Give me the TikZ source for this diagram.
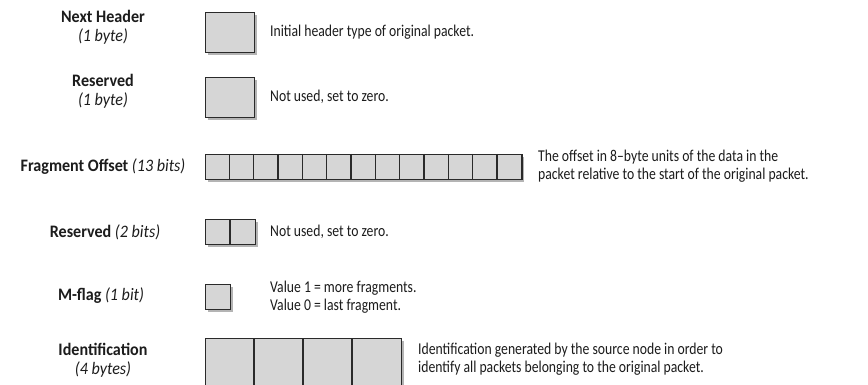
\documentclass[tikz,border=0pt]{standalone}
\usepackage{fontspec}
\setmainfont{Carlito}[FakeStretch=0.83]
\newfontfamily\namefont{Carlito}[FakeStretch=0.92]
\definecolor{ink}{HTML}{1C1C1C}
\definecolor{cellfill}{HTML}{D6D6D6}
\definecolor{boxline}{HTML}{2A2A2A}
\definecolor{shadowgray}{HTML}{B4B4B4}
\tikzset{
  cellbox/.style={draw=boxline, line width=1.3pt, fill=cellfill, inner sep=0pt},
  cellrule/.style={draw=boxline, line width=1.3pt},
  fieldshadow/.style={fill=shadowgray},
  fieldname/.style={font=\namefont\fontsize{17.5}{19}\selectfont\bfseries, align=center, text=ink, inner sep=0pt},
  fielddesc/.style={font=\fontsize{16.5}{18.5}\selectfont, align=left, anchor=west, text=ink, inner sep=0pt},
}
% \bitfield{name}{left}{top}{cells}{cell width}{cell height}
\newcommand\bitfield[6]{%
  \fill[fieldshadow] (#2+3,#3+3) rectangle ++(#4*#5,#6);
  \node[cellbox, anchor=north west, minimum width=#4*#5pt, minimum height=#6pt] (#1) at (#2,#3) {};
  \ifnum#4>1
    \pgfmathtruncatemacro\lastcell{#4-1}%
    \foreach \k in {1,...,\lastcell}{\draw[cellrule] (#2+\k*#5,#3) -- ++(0,#6);}%
  \fi
}
\begin{document}
\begin{tikzpicture}[x=1pt,y=-1pt]
  \useasboundingbox[fill=white] (0,0) rectangle (868,385);

  % field boxes
  \bitfield{nexthdr}{205}{12}{1}{48.5}{40}
  \bitfield{resbyte}{205}{77}{1}{48.5}{40}
  \bitfield{fragoff}{205}{154}{13}{24.33}{25}
  \bitfield{resbits}{205}{219}{2}{25}{25}
  \bitfield{mflag}{205}{284}{1}{25}{25}
  \bitfield{ident}{205}{338}{4}{49}{49}

  % field names
  \node[fieldname] (l1) at (103,27) {Next Header\\{\mdseries\itshape (1 byte)}};
  \node[fieldname] (l2) at (103,91) {Reserved\\{\mdseries\itshape (1 byte)}};
  \node[fieldname] (l3) at (103,167) {Fragment Offset {\mdseries\itshape (13 bits)}};
  \node[fieldname] (l4) at (105,232) {Reserved {\mdseries\itshape (2 bits)}};
  \node[fieldname] (l5) at (101,296) {M-flag {\mdseries\itshape (1 bit)}};
  \node[fieldname] (l6) at (103,360) {Identification\\{\mdseries\itshape (4 bytes)}};

  % descriptions
  \node[fielddesc] (d1) at (270,32) {Initial header type of original packet.};
  \node[fielddesc] (d2) at (270,97) {Not used, set to zero.};
  \node[fielddesc] (d3) at (538,166) {The offset in 8--byte units of the data in the\\packet relative to the start of the original packet.};
  \node[fielddesc] (d4) at (270,232) {Not used, set to zero.};
  \node[fielddesc] (d5) at (270,297) {Value 1 = more fragments.\\Value 0 = last fragment.};
  \node[fielddesc] (d6) at (418,359) {Identification generated by the source node in order to\\identify all packets belonging to the original packet.};
\end{tikzpicture}
\end{document}
